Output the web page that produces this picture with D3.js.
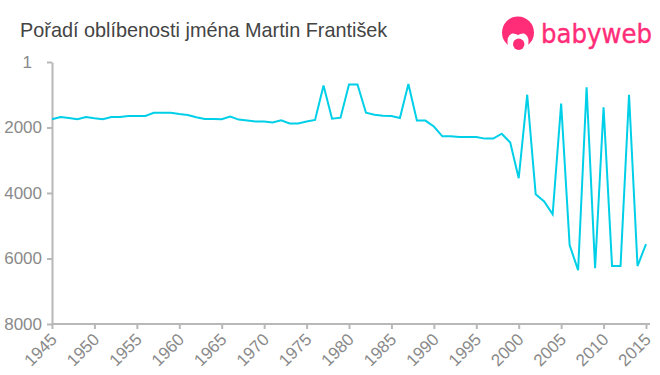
<!DOCTYPE html>
<html>
<head>
<meta charset="utf-8">
<title>Pořadí oblíbenosti jména Martin František</title>
<script src="https://cdnjs.cloudflare.com/ajax/libs/d3/7.8.5/d3.min.js"></script>
<style>
    html, body { margin: 0; padding: 0; background: #fff; }
    svg { display: block; font-family: "Liberation Sans", Arial, sans-serif; }
    .axis path, .axis line { stroke: #b8b8b8; stroke-width: 2px; }
    .axis text { fill: #8a8a8a; font-size: 17px; }
</style>
</head>
<body>
<div class="chart"></div>
<script>
let years = d3.range(1945, 2016);
let ranks = [
    1750, 1680, 1710, 1750, 1680, 1720, 1750, 1680, 1680, 1650,
    1650, 1650, 1550, 1550, 1550, 1590, 1620, 1690, 1740, 1740,
    1750, 1670, 1760, 1790, 1820, 1820, 1850, 1780, 1880, 1880,
    1820, 1770, 720, 1730, 1700, 690, 690, 1550, 1610, 1640,
    1650, 1710, 670, 1790, 1790, 1970, 2270, 2270, 2290, 2290,
    2290, 2340, 2340, 2190, 2460, 3550, 1000, 4040, 4260, 4650,
    1270, 5590, 6360, 770, 6300, 1385, 6230, 6230, 1000, 6230,
    5560
];
let yTicks = [1, 2000, 4000, 6000, 8000];
let xTicks = d3.range(1945, 2016, 5);
let title = 'Pořadí oblíbenosti jména Martin František';

let w = 660, h = 375;
let plotLeft = 52, plotRight = 646, plotTop = 62, plotBottom = 324;
let svg = d3.select('.chart').append('svg').attr('width', w).attr('height', h);

/* ==== SCALES ===== */

let xScale = d3.scaleLinear().domain([1945, 2015]).range([plotLeft, plotRight]);
let yScale = d3.scaleLinear().domain([1, 8000]).range([plotTop, plotBottom]);

/* ==== AXES ===== */

let xAxis = d3.axisBottom(xScale)
    .tickValues(xTicks)
    .tickFormat(d3.format('d'))
    .tickSize(5)
    .tickSizeOuter(0);

let yAxis = d3.axisLeft(yScale)
    .tickValues(yTicks)
    .tickFormat(d3.format('d'))
    .tickSize(5)
    .tickSizeOuter(0);

let xGroup = svg.append('g')
    .attr('class', 'axis x')
    .attr('transform', 'translate(0,' + plotBottom + ')')
    .call(xAxis);

xGroup.select('.domain')
    .attr('d', 'M' + (plotLeft - 1) + ',0H' + (plotRight + 4));

xGroup.selectAll('text')
    .attr('text-anchor', 'end')
    .attr('x', -3)
    .attr('y', 8)
    .attr('dy', '0.71em')
    .attr('transform', 'rotate(-45,-3,8)');

let yGroup = svg.append('g')
    .attr('class', 'axis y')
    .attr('transform', 'translate(' + plotLeft + ',0)')
    .call(yAxis);

yGroup.selectAll('text')
    .attr('x', function (d) {
        return d === 1 ? -20 : -10;   // the "1" sits further left than the others
    });

/* ==== LINE ===== */

let line = d3.line()
    .x(function (d, i) { return xScale(years[i]); })
    .y(function (d) { return yScale(d); });

svg.append('path')
    .datum(ranks)
    .attr('d', line)
    .attr('fill', 'none')
    .attr('stroke', '#00cfe8')
    .attr('stroke-width', 2);

/* ==== TITLE ===== */

svg.append('text')
    .text(title)
    .attr('x', 20)
    .attr('y', 37)
    .attr('fill', '#444')
    .attr('font-size', 19.85);

/* ==== LOGO ===== */

let logo = svg.append('g').attr('fill', '#ff2d78');
logo.append('circle').attr('cx', 518).attr('cy', 32.5).attr('r', 16);
logo.append('path')
    .attr('d', 'M508,46 Q506,36 512,33.5 Q515,33 518,35 Q521,33 524,33.5 Q530,36 528,46 Q518,56 508,46 Z')
    .attr('fill', '#fff');
logo.append('circle').attr('cx', 518.7).attr('cy', 44.3).attr('r', 5.7);

let logoText = logo.append('text')
    .text('babyweb')
    .attr('font-family', '"DejaVu Sans", sans-serif')
    .attr('font-size', 27)
    .attr('stroke', '#ff2d78')
    .attr('stroke-width', 0.4);

// squeeze the word to the logo's width, so it does not run past the page edge
logoText.attr('transform', 'translate(541,43) scale(' + (111 / logoText.node().getComputedTextLength()) + ',1)');
</script>
</body>
</html>
